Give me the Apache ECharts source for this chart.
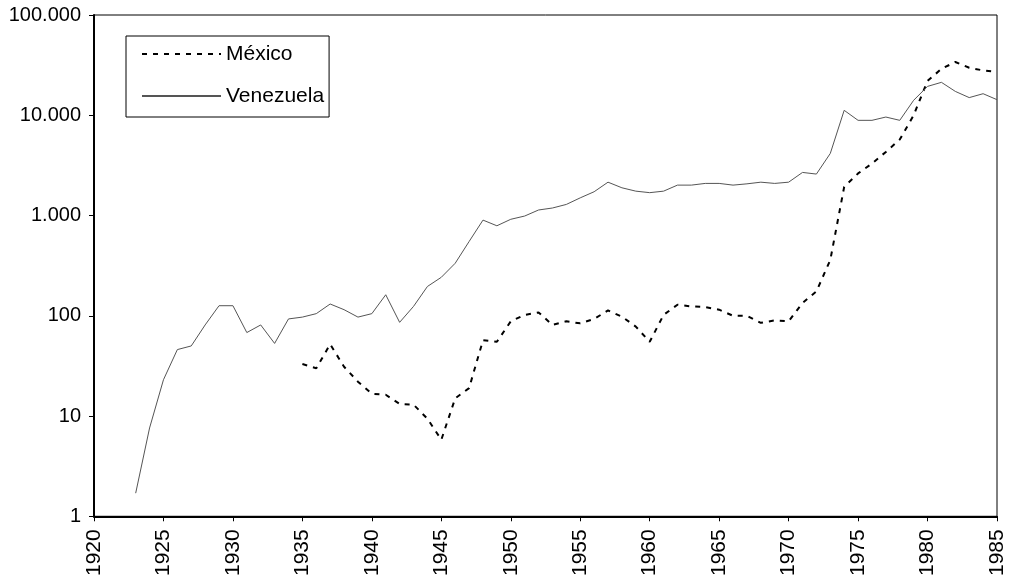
<!DOCTYPE html>
<html>
<head>
<meta charset="utf-8">
<script src="https://cdn.jsdelivr.net/npm/echarts@6/dist/echarts.min.js"></script>
<style>
html,body{margin:0;padding:0;background:#fff;}
#chart{width:1012px;height:579px;}
</style>
</head>
<body>
<div id="chart"></div>
<script>
var seriesNames = ['México', 'Venezuela'];

// Venezuela 1923–1985
var venezuelaYears = [1923,1924,1925,1926,1927,1928,1929,1930,1931,1932,1933,1934,1935,1936,1937,1938,1939,1940,1941,1942,1943,1944,1945,1946,1947,1948,1949,1950,1951,1952,1953,1954,1955,1956,1957,1958,1959,1960,1961,1962,1963,1964,1965,1966,1967,1968,1969,1970,1971,1972,1973,1974,1975,1976,1977,1978,1979,1980,1981,1982,1983,1984,1985];
var venezuelaValues = [1.7,7.6,23,46,50,81,126,126,68,81,53,93,97,105,131,115,97,105,162,86,124,196,242,334,550,900,790,917,988,1135,1188,1290,1500,1726,2150,1890,1750,1690,1750,2010,2010,2090,2090,2010,2070,2150,2090,2150,2690,2590,4160,11200,8900,8900,9600,8900,14100,19400,21300,17300,15000,16400,14300];

// México 1935–1985
var mexicoYears = [1935,1936,1937,1938,1939,1940,1941,1942,1943,1944,1945,1946,1947,1948,1949,1950,1951,1952,1953,1954,1955,1956,1957,1958,1959,1960,1961,1962,1963,1964,1965,1966,1967,1968,1969,1970,1971,1972,1973,1974,1975,1976,1977,1978,1979,1980,1981,1982,1983,1984,1985];
var mexicoValues = [33,30,52,31,22,16.7,16.3,13.2,13,9.4,5.8,15,19,57,55,88,102,108,81,88,84,93,113,98,78,55,102,129,124,122,115,100,100,85,90,88,134,175,360,1930,2630,3300,4310,5730,10000,22000,29000,34000,29800,28000,27000];

var yTicks = [1, 10, 100, 1000, 10000, 100000];
var xMin = 1920, xMax = 1985, xStep = 5;

function pairs(xs, vs) {
  var out = [];
  for (var i = 0; i < xs.length; i++) out.push([xs[i], vs[i]]);
  return out;
}
function fmtThousands(v) {
  var s = String(Math.round(v));
  return s.replace(/\B(?=(\d{3})+(?!\d))/g, '.');
}

var FONT = 'Liberation Sans, Arial, sans-serif';
var chart = echarts.init(document.getElementById('chart'), null, {renderer: 'canvas'});
chart.setOption({
  animation: false,
  backgroundColor: '#ffffff',
  textStyle: {fontFamily: FONT},
  grid: {
    left: 94, right: 15, top: 15, bottom: 62,
    show: true, borderColor: '#000', borderWidth: 1
  },
  legend: {
    orient: 'vertical',
    left: 126, top: 36,
    padding: [6, 5, 9, 15],
    itemGap: 18,
    itemWidth: 79,
    itemHeight: 14,
    borderColor: '#000',
    borderWidth: 1,
    backgroundColor: '#fff',
    itemStyle: {opacity: 0},
    textStyle: {fontSize: 21, lineHeight: 24, color: '#000', fontFamily: FONT},
    data: seriesNames
  },
  xAxis: {
    type: 'value',
    min: xMin, max: xMax, interval: xStep,
    axisLine: {show: true, lineStyle: {color: '#000', width: 2}},
    axisTick: {show: true, length: 5, lineStyle: {color: '#000'}},
    splitLine: {show: false},
    axisLabel: {
      rotate: 90, fontSize: 21, color: '#000', margin: 13,
      formatter: function (v) { return String(v); }
    }
  },
  yAxis: {
    type: 'log',
    logBase: 10,
    min: yTicks[0], max: yTicks[yTicks.length - 1],
    axisLine: {show: true, lineStyle: {color: '#000', width: 2}},
    axisTick: {show: true, length: 5, lineStyle: {color: '#000'}},
    splitLine: {show: false},
    axisLabel: {
      fontSize: 20, color: '#000', margin: 13,
      formatter: function (v) { return fmtThousands(v); }
    }
  },
  series: [
    {
      name: seriesNames[0],
      type: 'line',
      symbol: 'none',
      data: pairs(mexicoYears, mexicoValues),
      itemStyle: {color: '#000'},
      lineStyle: {color: '#000', width: 2, type: [5, 6]}
    },
    {
      name: seriesNames[1],
      type: 'line',
      symbol: 'none',
      data: pairs(venezuelaYears, venezuelaValues),
      itemStyle: {color: '#555'},
      lineStyle: {color: '#555', width: 1, type: 'solid'}
    }
  ]
});
</script>
</body>
</html>
